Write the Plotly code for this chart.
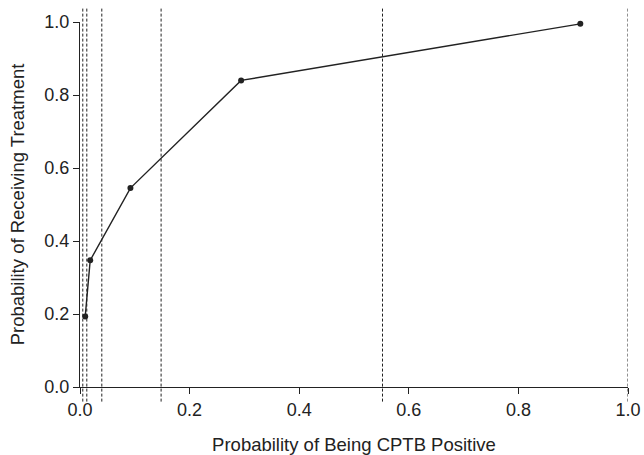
import plotly.graph_objects as go

# Data
x_points = [0.0095, 0.0186, 0.092, 0.294, 0.913]
y_points = [0.193, 0.347, 0.545, 0.840, 0.995]
thresholds = [0.0051, 0.0124, 0.0398, 0.148, 0.552, 1.0]
tick_vals = [0.0, 0.2, 0.4, 0.6, 0.8, 1.0]
tick_text = ["0.0", "0.2", "0.4", "0.6", "0.8", "1.0"]

FONT = "Liberation Sans, Arial, Helvetica, sans-serif"
INK = "#222222"

fig = go.Figure()
fig.add_trace(go.Scatter(
    x=x_points, y=y_points, mode="lines+markers",
    line=dict(color=INK, width=1.4),
    marker=dict(color=INK, size=6),
    cliponaxis=False, showlegend=False, hoverinfo="skip",
))

for t in thresholds:
    fig.add_shape(type="line", xref="x", yref="paper",
                  x0=t, x1=t, y0=-0.04, y1=1.04,
                  line=dict(color=INK, width=1, dash="3px,2px"))

axis_common = dict(
    range=[0, 1], tickvals=tick_vals, ticktext=tick_text,
    showline=True, linecolor=INK, linewidth=1,
    ticks="outside", ticklen=6, tickcolor=INK, tickwidth=1,
    showgrid=False, zeroline=False, automargin=False,
    tickfont=dict(family=FONT, size=18, color=INK),
)

fig.update_layout(
    width=644, height=455,
    margin=dict(l=80, r=16, t=22, b=68),
    paper_bgcolor="white", plot_bgcolor="white",
    font=dict(family=FONT, size=18, color=INK),
    xaxis=dict(**axis_common,
               title=dict(text="Probability of Being CPTB Positive",
                          font=dict(family=FONT, size=18.5, color=INK),
                          standoff=19)),
    yaxis=dict(**axis_common,
               title=dict(text="Probability of Receiving Treatment",
                          font=dict(family=FONT, size=18.5, color=INK),
                          standoff=14)),
)

# Remove the default 8px page margin so the figure fills the window exactly.
fig.write_html(
    "out.html",
    config={"displayModeBar": False},
    post_script="document.body.style.margin='0';document.body.style.overflow='hidden';",
)
